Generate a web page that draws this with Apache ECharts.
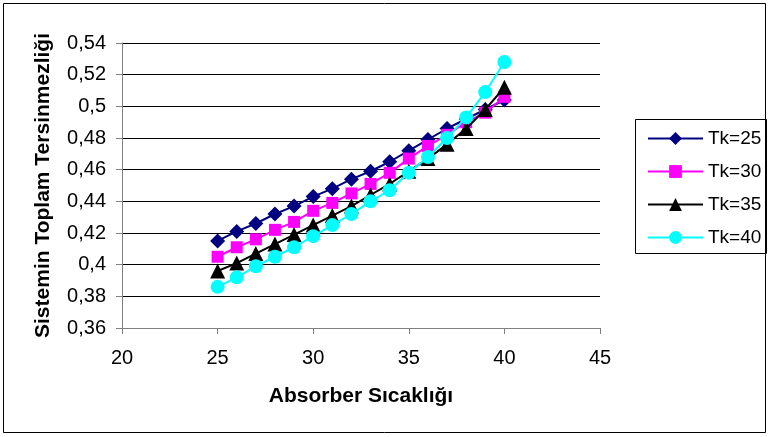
<!DOCTYPE html>
<html>
<head>
<meta charset="utf-8">
<script src="https://cdn.jsdelivr.net/npm/echarts@6/dist/echarts.min.js"></script>
<style>
html,body{margin:0;padding:0;background:#fff;}
#c{width:768px;height:437px;}
</style>
</head>
<body>
<div id="c"></div>
<script>
var xValues = [25,26,27,28,29,30,31,32,33,34,35,36,37,38,39,40];
var seriesNames = ['Tk=25','Tk=30','Tk=35','Tk=40'];
var tk25 = [0.415,0.421,0.426,0.432,0.437,0.443,0.448,0.454,0.459,0.465,0.472,0.479,0.486,0.492,0.498,0.504];
var tk30 = [0.405,0.411,0.416,0.422,0.427,0.434,0.439,0.445,0.451,0.458,0.467,0.475,0.482,0.490,0.496,0.506];
var tk35 = [0.396,0.401,0.407,0.413,0.419,0.425,0.431,0.437,0.444,0.451,0.459,0.467,0.476,0.486,0.498,0.512];
var tk40 = [0.386,0.392,0.399,0.405,0.411,0.418,0.425,0.432,0.440,0.447,0.458,0.468,0.480,0.493,0.509,0.528];
var xTitle = 'Absorber Sıcaklığı';
var yTitle = 'Sistemin Toplam Tersinmezliği';

var colors = ['#000080','#FF00FF','#000000','#00FFFF'];
var symbols = ['diamond','rect','triangle','circle'];
var sizes = [15,12,15,14];
var allData = [tk25,tk30,tk35,tk40];

function pairs(arr){ return xValues.map(function(x,i){ return [x, arr[i]]; }); }

var chart = echarts.init(document.getElementById('c'), null, {renderer:'canvas'});
var FONT = 'Liberation Sans, Arial, sans-serif';
var series = seriesNames.map(function(n,i){
  return {
    name: n, type: 'line', data: pairs(allData[i]),
    symbol: symbols[i], symbolSize: sizes[i],
    lineStyle: {color: colors[i], width: 2},
    itemStyle: {color: colors[i]},
    showSymbol: true, animation: false, z: 2 + i
  };
});

chart.setOption({
  animation: false,
  backgroundColor: '#fff',
  textStyle: {fontFamily: FONT},
  grid: {left: 122, right: 168, top: 43, bottom: 109, containLabel: false},
  xAxis: {
    type: 'value', min: 20, max: 45, interval: 5,
    name: xTitle, nameLocation: 'middle', nameGap: 58,
    nameTextStyle: {fontFamily: FONT, fontSize: 21, fontWeight: 'bold', color: '#000'},
    axisLine: {show: true, onZero: false, lineStyle: {color: '#808080', width: 1}},
    axisTick: {show: true, length: 6, inside: false, lineStyle: {color: '#808080'}},
    axisLabel: {fontFamily: FONT, fontSize: 20, color: '#000', margin: 20},
    splitLine: {show: false}
  },
  yAxis: {
    type: 'value', min: 0.36, max: 0.54, interval: 0.02,
    name: yTitle, nameLocation: 'middle', nameGap: 68, nameRotate: 90,
    nameTextStyle: {fontFamily: FONT, fontSize: 21, fontWeight: 'bold', color: '#000'},
    axisLine: {show: true, lineStyle: {color: '#808080', width: 1}},
    axisTick: {show: true, length: 6, lineStyle: {color: '#808080'}},
    axisLabel: {fontFamily: FONT, fontSize: 20, color: '#000', margin: 16,
      formatter: function(v){ return String(parseFloat(v.toFixed(2))).replace('.', ','); }},
    splitLine: {show: true, lineStyle: {color: '#000', width: 1}}
  },
  legend: {
    orient: 'vertical', left: 642, top: 124,
    itemWidth: 55, itemHeight: 16, itemGap: 14,
    textStyle: {fontFamily: FONT, fontSize: 19, color: '#000'},
    data: seriesNames
  },
  graphic: [
    {type: 'rect', shape: {x: 3.5, y: 3.5, width: 762, height: 429},
     style: {fill: 'none', stroke: '#000', lineWidth: 1}, silent: true, z: 0},
    {type: 'rect', shape: {x: 635.5, y: 119.5, width: 131, height: 134},
     style: {fill: 'none', stroke: '#000', lineWidth: 1}, silent: true, z: 0}
  ],
  series: series
});
</script>
</body>
</html>
